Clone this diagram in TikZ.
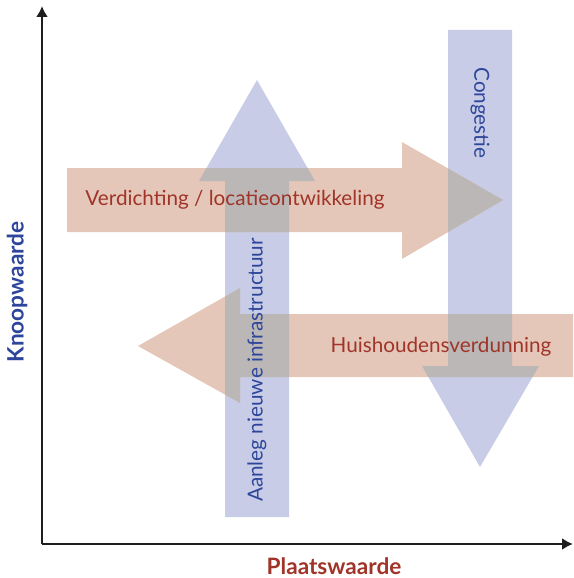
\documentclass[tikz,border=0pt]{standalone}
\usepackage{fontspec}
\setmainfont{Lato}
\usetikzlibrary{positioning,arrows.meta}

\definecolor{pijlblauw}{RGB}{200,204,230}
\definecolor{pijlperzik}{RGB}{228,199,185}
\definecolor{pijlgrijs}{RGB}{187,183,183}
\definecolor{tekstblauw}{RGB}{45,70,155}
\definecolor{tekstrood}{RGB}{160,52,40}
\definecolor{asgrijs}{RGB}{30,30,30}

\tikzset{
  pijlaanleg/.style={insert path={(225,517) -- (225,181) -- (199,181) -- (257,80) -- (315,181) -- (289,181) -- (289,517) -- cycle}},
  pijlcongestie/.style={insert path={(448,30) -- (448,366) -- (422,366) -- (480,467) -- (539,366) -- (512,366) -- (512,30) -- cycle}},
  pijlverdichting/.style={insert path={(67,168) -- (402,168) -- (402,142) -- (503,200) -- (402,259) -- (402,232) -- (67,232) -- cycle}},
  pijlhuishoudens/.style={insert path={(573,314) -- (240,314) -- (240,288) -- (138,346) -- (240,403) -- (240,377) -- (573,377) -- cycle}},
  blauwtekst/.style={text=tekstblauw, font=\fontsize{20.7}{24}\selectfont},
  roodtekst/.style={text=tekstrood, font=\fontsize{20.7}{24}\selectfont},
  astitel/.style={inner sep=0pt, font=\fontsize{22.6}{26}\selectfont\bfseries},
  as/.style={draw=asgrijs, line width=2.2pt, -{Latex[length=11pt,width=12pt]}}
}

\begin{document}
\begin{tikzpicture}[x=1pt,y=-1pt]
    \useasboundingbox (0,0) rectangle (573,578);

    % pijlen
    \fill[pijlblauw, pijlaanleg];
    \fill[pijlblauw, pijlcongestie];
    \fill[pijlperzik, pijlverdichting];
    \fill[pijlperzik, pijlhuishoudens];

    % overlap
    \begin{scope}
        \clip[pijlaanleg];
        \fill[pijlgrijs, pijlverdichting];
        \fill[pijlgrijs, pijlhuishoudens];
    \end{scope}
    \begin{scope}
        \clip[pijlcongestie];
        \fill[pijlgrijs, pijlverdichting];
        \fill[pijlgrijs, pijlhuishoudens];
    \end{scope}

    % assen
    \coordinate (oorsprong) at (42,544);
    \coordinate (ytop)      at (42,6);
    \coordinate (xeind)     at (573,544);
    \draw[as] (oorsprong) -- (ytop);
    \draw[as] (oorsprong) -- (xeind);

    \node[astitel, text=tekstblauw, rotate=90] (knoop) at (17,292) {Knoopwaarde};
    \node[astitel, text=tekstrood, anchor=base] (plaats) at (334,574) {Plaatswaarde};

    \node[roodtekst] (verdichting) at (235,200) {Verdichting / locatieontwikkeling};
    \node[roodtekst] (huishoudens) at (441,347) {Huishoudensverdunning};
    \node[blauwtekst, rotate=90]  (aanleg)    at (257,370) {Aanleg nieuwe infrastructuur};
    \node[blauwtekst, rotate=-90] (congestie) at (480,113) {Congestie};
\end{tikzpicture}
\end{document}
